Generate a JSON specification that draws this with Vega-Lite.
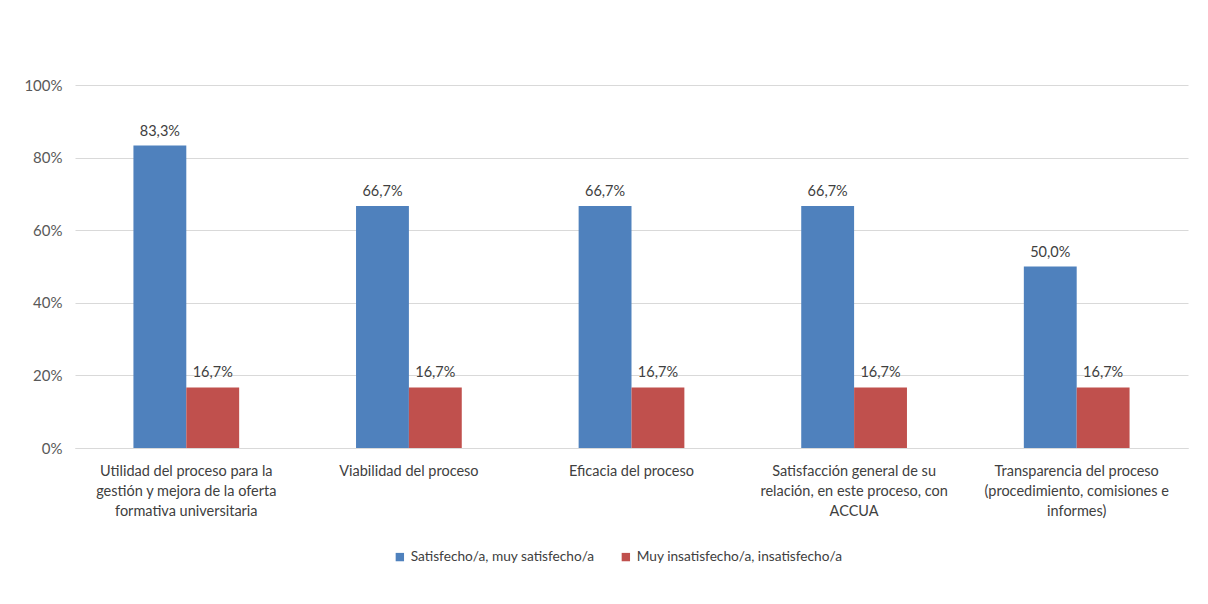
{
  "$schema": "https://vega.github.io/schema/vega-lite/v6.json",
  "width": 1113,
  "height": 363,
  "autosize": {"type": "none"},
  "padding": {"left": 75, "top": 85, "right": 20, "bottom": 156},
  "background": "white",
  "config": {
    "locale": {"number": {"decimal": ",", "thousands": ".", "grouping": [3], "currency": ["", " €"]}},
    "font": "Lato",
    "view": {"stroke": null},
    "axis": {"labelFont": "Lato", "labelColor": "#404040", "labelFontSize": 14.5}
  },
  "data": {
    "values": [
      {"categoria": "Utilidad del proceso para la|gestión y mejora de la oferta|formativa universitaria", "serie": "Satisfecho/a, muy satisfecho/a", "valor": 0.833},
      {"categoria": "Utilidad del proceso para la|gestión y mejora de la oferta|formativa universitaria", "serie": "Muy insatisfecho/a, insatisfecho/a", "valor": 0.167},
      {"categoria": "Viabilidad del proceso", "serie": "Satisfecho/a, muy satisfecho/a", "valor": 0.667},
      {"categoria": "Viabilidad del proceso", "serie": "Muy insatisfecho/a, insatisfecho/a", "valor": 0.167},
      {"categoria": "Eficacia del proceso", "serie": "Satisfecho/a, muy satisfecho/a", "valor": 0.667},
      {"categoria": "Eficacia del proceso", "serie": "Muy insatisfecho/a, insatisfecho/a", "valor": 0.167},
      {"categoria": "Satisfacción general de su|relación, en este proceso, con|ACCUA", "serie": "Satisfecho/a, muy satisfecho/a", "valor": 0.667},
      {"categoria": "Satisfacción general de su|relación, en este proceso, con|ACCUA", "serie": "Muy insatisfecho/a, insatisfecho/a", "valor": 0.167},
      {"categoria": "Transparencia del proceso|(procedimiento, comisiones e|informes)", "serie": "Satisfecho/a, muy satisfecho/a", "valor": 0.5},
      {"categoria": "Transparencia del proceso|(procedimiento, comisiones e|informes)", "serie": "Muy insatisfecho/a, insatisfecho/a", "valor": 0.167}
    ]
  },
  "encoding": {
    "x": {
      "field": "categoria", "type": "nominal", "sort": null, "title": null,
      "scale": {"paddingInner": 0.525, "paddingOuter": 0.2625},
      "axis": {"labelAngle": 0, "labelExpr": "split(datum.label, '|')", "labelLineHeight": 20, "labelPadding": 16, "domain": true, "domainColor": "#d9d9d9", "ticks": false, "labelLimit": 300}
    },
    "xOffset": {"field": "serie", "type": "nominal", "sort": ["Satisfecho/a, muy satisfecho/a", "Muy insatisfecho/a, insatisfecho/a"], "scale": {"paddingInner": 0, "paddingOuter": 0}},
    "y": {
      "field": "valor", "type": "quantitative", "title": null,
      "scale": {"domain": [0, 1], "nice": false},
      "axis": {"format": ".0%", "values": [0, 0.2, 0.4, 0.6, 0.8, 1], "domain": false, "ticks": false, "gridColor": "#d9d9d9", "labelPadding": 13, "labelColor": "#595959", "labelFontSize": 15}
    }
  },
  "layer": [
    {
      "mark": {"type": "bar"},
      "encoding": {
        "color": {
          "field": "serie", "type": "nominal", "sort": ["Satisfecho/a, muy satisfecho/a", "Muy insatisfecho/a, insatisfecho/a"],
          "scale": {"range": ["#4F81BD", "#C0504D"]},
          "legend": {"title": null, "orient": "none", "legendX": 318, "legendY": 465, "direction": "horizontal", "symbolType": "square", "symbolSize": 70, "labelFontSize": 13.7, "labelColor": "#404040", "labelFont": "Lato", "columnPadding": 24, "labelOffset": 4, "labelLimit": 400}
        }
      }
    },
    {
      "mark": {"type": "text", "baseline": "bottom", "dy": -7, "fontSize": 14.5, "color": "#404040"},
      "encoding": {"text": {"field": "valor", "type": "quantitative", "format": ".1%"}}
    }
  ]
}
